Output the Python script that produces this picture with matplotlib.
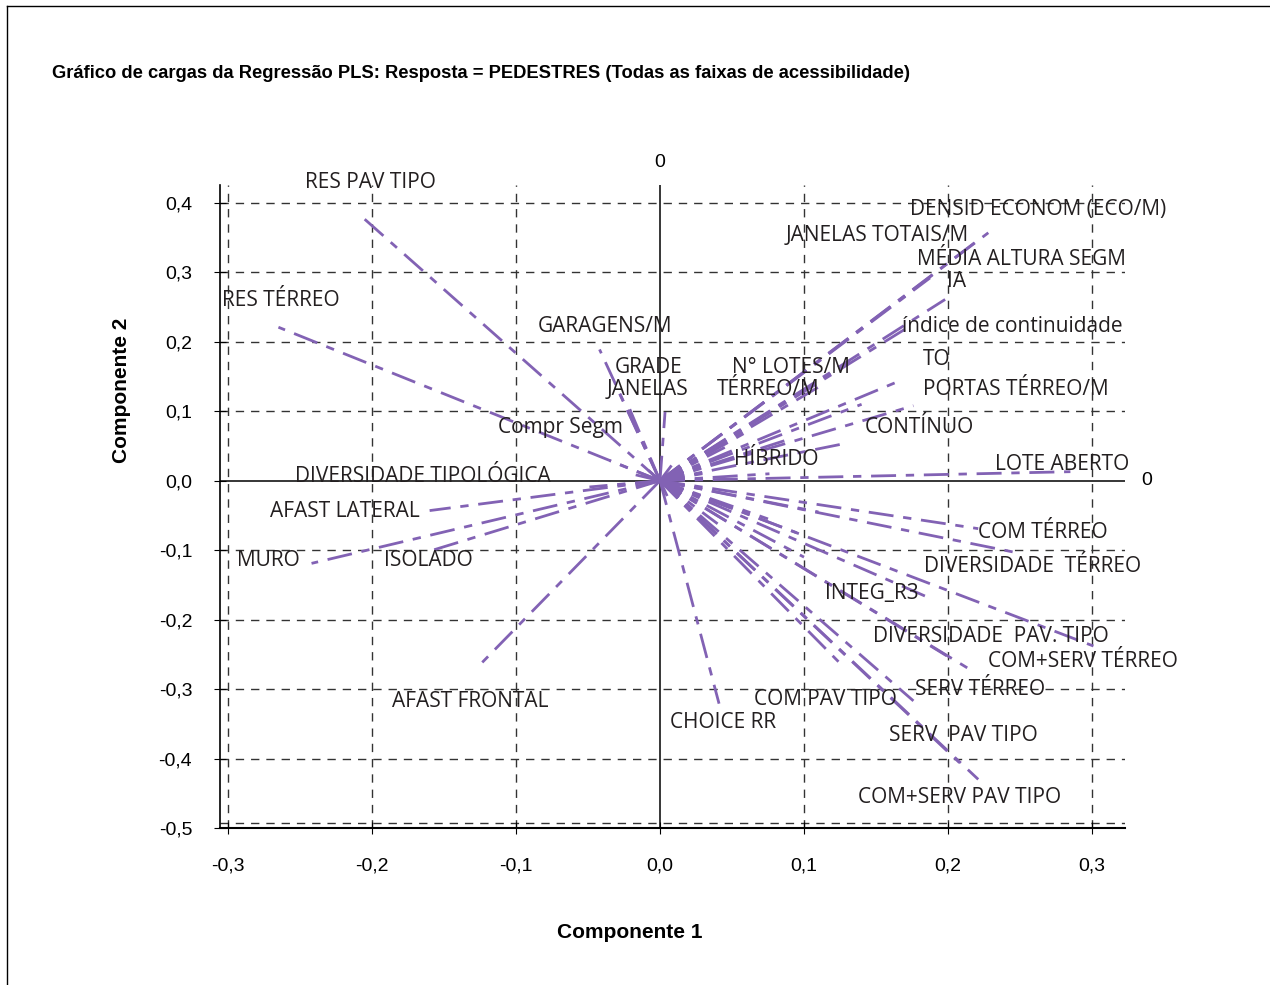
import matplotlib
matplotlib.use("Agg")
import matplotlib.pyplot as plt
from matplotlib.lines import Line2D

# cargas (Componente 1, Componente 2)
variaveis = ["RES PAV TIPO", "RES TÉRREO", "GARAGENS/M", "GRADE", "JANELAS",
             "Compr Segm", "DIVERSIDADE TIPOLÓGICA", "AFAST LATERAL", "MURO",
             "ISOLADO", "AFAST FRONTAL", "CHOICE RR", "COM PAV TIPO",
             "SERV TÉRREO", "SERV  PAV TIPO", "COM+SERV PAV TIPO",
             "COM+SERV TÉRREO", "DIVERSIDADE  PAV. TIPO", "INTEG_R3",
             "DIVERSIDADE  TÉRREO", "COM TÉRREO", "LOTE ABERTO", "HÍBRIDO",
             "CONTÍNUO", "PORTAS TÉRREO/M", "TO", "índice de continuidade",
             "IA", "MÉDIA ALTURA SEGM", "JANELAS TOTAIS/M",
             "DENSID ECONOM (ECO/M)", "N° LOTES/M", "TÉRREO/M"]
comp1 = [-0.207, -0.265, -0.042, -0.028, -0.021, -0.035, -0.049, -0.160,
         -0.242, -0.161, -0.126, 0.041, 0.127, 0.176, 0.208, 0.221, 0.217,
         0.301, 0.184, 0.251, 0.221, 0.285, 0.076, 0.127, 0.176, 0.169,
         0.170, 0.198, 0.1875, 0.220, 0.228, 0.132, 0.111]
comp2 = [0.380, 0.221, 0.189, 0.125, 0.103, 0.029, -0.009, -0.043, -0.119,
         -0.102, -0.267, -0.321, -0.267, -0.317, -0.406, -0.430, -0.274,
         -0.238, -0.166, -0.105, -0.069, 0.013, 0.010, 0.053, 0.108, 0.146,
         0.218, 0.261, 0.292, 0.345, 0.357, 0.172, 0.136]

# vetores sem rotulo (curtos, perto da origem)
extra1 = [0.199, 0.0035, 0.018, 0.022, 0.020, 0.013, 0.005, -0.008, 0.008,
          0.030, 0.045, 0.060, 0.050, 0.040, 0.075, 0.095, 0.110, -0.018,
          0.035, 0.090, 0.140, 0.100]
extra2 = [-0.252, 0.099, 0.014, 0.004, -0.009, -0.019, -0.022, 0.015, 0.022,
          0.022, 0.048, 0.070, -0.040, -0.062, -0.055, -0.075, -0.045, 0.009,
          0.012, 0.060, 0.110, -0.110]

# posicao dos rotulos
rot_x = [-0.201, -0.263, -0.038, -0.008, -0.009, -0.069, -0.165, -0.219,
         -0.272, -0.161, -0.132, 0.044, 0.115, 0.222, 0.211, 0.208, 0.294,
         0.230, 0.147, 0.259, 0.266, 0.279, 0.081, 0.180, 0.247, 0.192,
         0.245, 0.206, 0.251, 0.151, 0.2625, 0.091, 0.075]
rot_y = [0.430, 0.2595, 0.222, 0.163, 0.132, 0.077, 0.006, -0.044, -0.115,
         -0.115, -0.318, -0.348, -0.315, -0.300, -0.367, -0.456, -0.261,
         -0.224, -0.162, -0.123, -0.075, 0.024, 0.030, 0.076, 0.132, 0.175,
         0.222, 0.287, 0.318, 0.353, 0.390, 0.163, 0.132]

xticks = [-0.3, -0.2, -0.1, 0.0, 0.1, 0.2, 0.3]
yticks = [0.4, 0.3, 0.2, 0.1, 0.0, -0.1, -0.2, -0.3, -0.4, -0.5]

roxo = "#8262b4"
fonte = "Liberation Sans"
plt.rcParams["lines.scale_dashes"] = False

fig = plt.figure(figsize=(12.7, 9.85), dpi=100)
ax = fig.add_axes([0.1732, 0.1594, 0.7126, 0.6528])
ax.set_xlim(-0.3056, 0.3229)
ax.set_ylim(-0.496, 0.4258)

# grade tracejada
for v in xticks:
    if v != 0:
        ax.axvline(v, color="#333333", lw=1, dashes=(6, 5), zorder=1)
for v in yticks[:-1]:
    if v != 0:
        ax.axhline(v, color="#333333", lw=1, dashes=(6, 5), zorder=1)
ax.axhline(-0.4925, color="#333333", lw=1, dashes=(6, 5), zorder=1)

ax.axhline(0, color="black", lw=1.1, zorder=2)
ax.axvline(0, color="black", lw=1.1, zorder=2)

for x, y in zip(comp1 + extra1, comp2 + extra2):
    ax.plot([0, x], [0, y], color=roxo, lw=2, dashes=(18, 7, 6, 7), zorder=3)

for nome, x, y in zip(variaveis, rot_x, rot_y):
    ax.text(x, y, nome, ha="center", va="center", fontsize=15,
            family="Open Sans", color="#231f20", zorder=4)

ax.text(0, 1.035, "0", transform=ax.get_xaxis_transform(), ha="center",
        va="center", fontsize=14, family=fonte)
ax.text(1.018, 0.0, "0", transform=ax.get_yaxis_transform(), ha="left",
        va="center", fontsize=14, family=fonte)

ax.set_xticks(xticks)
ax.set_yticks(yticks)
ax.set_xticklabels([f"{v:.1f}".replace(".", ",") for v in xticks],
                   family=fonte, fontsize=14)
ax.set_yticklabels([f"{v:.1f}".replace(".", ",") for v in yticks],
                   family=fonte, fontsize=14)
ax.tick_params(axis="x", direction="inout", length=8, width=0.8, pad=17)
ax.tick_params(axis="y", direction="inout", length=8, width=0.8, pad=16)
ax.spines["top"].set_visible(False)
ax.spines["right"].set_visible(False)
ax.spines["left"].set_linewidth(1.2)
ax.spines["bottom"].set_linewidth(1.5)

ax.set_xlabel("Componente 1", family=fonte, fontweight="bold", fontsize=15,
              va="center")
ax.xaxis.set_label_coords(0.453, -0.163)
ax.set_ylabel("Componente 2", family=fonte, fontweight="bold", fontsize=15,
              va="center")
ax.yaxis.set_label_coords(-0.109, 0.681)

fig.text(0.041, 0.925, "Gráfico de cargas da Regressão PLS: Resposta = PEDESTRES "
         "(Todas as faixas de acessibilidade)", family=fonte,
         fontweight="bold", fontsize=13.2, va="center", ha="left")

# moldura
fig.add_artist(Line2D([0.0055, 0.0055], [0, 0.994], color="black", lw=1))
fig.add_artist(Line2D([0.0055, 1], [0.994, 0.994], color="black", lw=1))

fig.savefig("out.png", dpi=100)
